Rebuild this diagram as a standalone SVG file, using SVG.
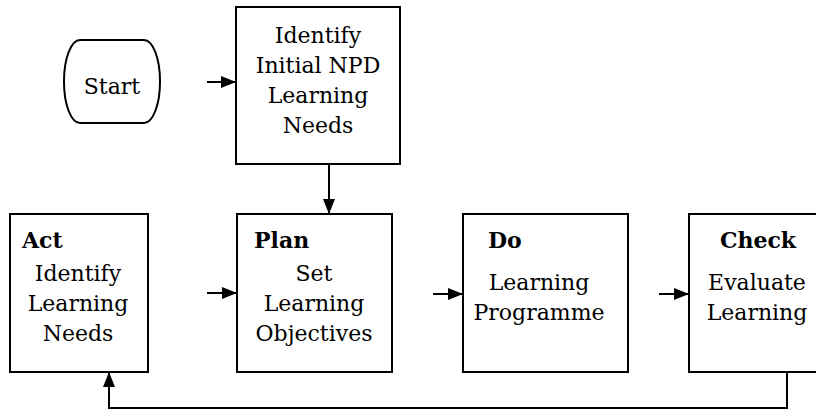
<svg xmlns="http://www.w3.org/2000/svg" width="816" height="410" viewBox="0 0 816 410">
<style>
.box{fill:#fff;stroke:#000;stroke-width:2}
text{font-family:'DejaVu Serif',serif;font-size:22px;fill:#000}
.t{text-anchor:middle}
.b{font-weight:bold}
.ln{fill:none;stroke:#000;stroke-width:2}
</style>
<defs>
<marker id="ah" markerWidth="15" markerHeight="12" refX="15" refY="6" orient="auto" markerUnits="userSpaceOnUse">
<path d="M0,0 L15,6 L0,12 Z" fill="#000"/>
</marker>
</defs>
<rect width="816" height="410" fill="#fff"/>
<g id="start">
<rect class="box" x="64" y="40" width="96" height="83" rx="16" ry="41"/>
<text class="t" x="112" y="94">Start</text>
</g>
<g id="identify-initial">
<rect class="box" x="236" y="7" width="164" height="157"/>
<text class="t" x="318" y="43">Identify</text>
<text class="t" x="318" y="73">Initial NPD</text>
<text class="t" x="318" y="103">Learning</text>
<text class="t" x="318" y="133">Needs</text>
</g>
<g id="act">
<rect class="box" x="10" y="214" width="138" height="158"/>
<text class="b" x="22" y="248">Act</text>
<text class="t" x="78" y="281">Identify</text>
<text class="t" x="78" y="311">Learning</text>
<text class="t" x="78" y="341">Needs</text>
</g>
<g id="plan">
<rect class="box" x="237" y="214" width="155" height="158"/>
<text class="b" x="254" y="248">Plan</text>
<text class="t" x="314" y="281">Set</text>
<text class="t" x="314" y="311">Learning</text>
<text class="t" x="314" y="341">Objectives</text>
</g>
<g id="do">
<rect class="box" x="463" y="214" width="165" height="158"/>
<text class="b" x="488" y="248">Do</text>
<text class="t" x="539" y="290">Learning</text>
<text class="t" x="539" y="320">Programme</text>
</g>
<g id="check">
<rect class="box" x="689" y="214" width="140" height="158"/>
<text class="b t" x="758" y="248">Check</text>
<text class="t" x="757" y="290">Evaluate</text>
<text class="t" x="757" y="320">Learning</text>
</g>
<g id="connectors">
<line class="ln" x1="207" y1="82" x2="236" y2="82" marker-end="url(#ah)"/>
<line class="ln" x1="329" y1="164" x2="329" y2="214" marker-end="url(#ah)"/>
<line class="ln" x1="207" y1="293" x2="237" y2="293" marker-end="url(#ah)"/>
<line class="ln" x1="433" y1="294" x2="463" y2="294" marker-end="url(#ah)"/>
<line class="ln" x1="659" y1="294" x2="689" y2="294" marker-end="url(#ah)"/>
<polyline class="ln" points="787,372 787,408 109,408 109,372" marker-end="url(#ah)"/>
</g>
</svg>
